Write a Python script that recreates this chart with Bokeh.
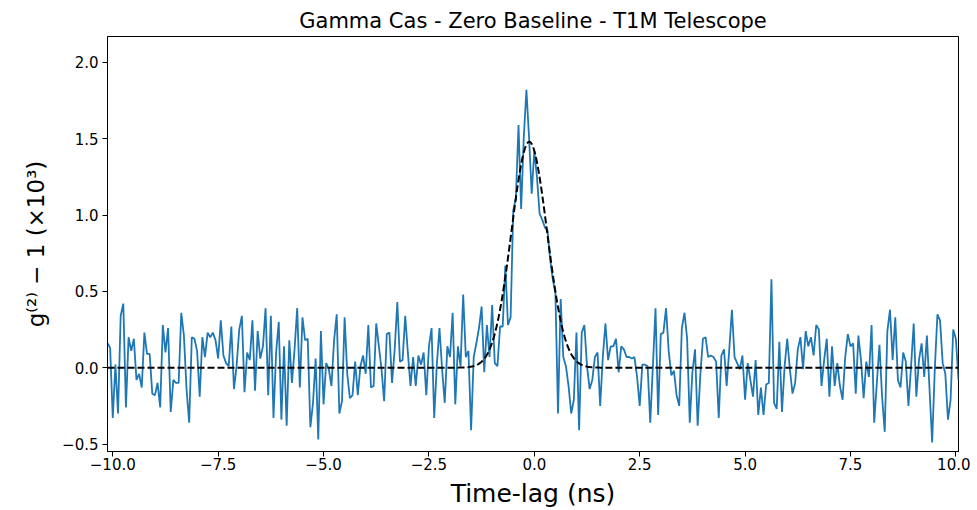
import numpy as np
from bokeh.plotting import figure
from bokeh.models import Range1d, FixedTicker, CustomJSTickFormatter
from bokeh.embed import file_html
from bokeh.resources import INLINE

# ---- data ----
title_text = "Gamma Cas - Zero Baseline - T1M Telescope"
x_label = "Time-lag (ns)"
y_label = "g\u207d\u00b2\u207e \u2212 1 (\u00d710\u00b3)"

time_start = -10.125
time_step = 0.0625

seg1 = [0.16, 0.13, -0.33, 0.02, -0.30, 0.34, 0.42, -0.26, 0.20, 0.11, 0.19, -0.08, -0.04, -0.13, 0.23, 0.09, 0.09, -0.17, -0.18, -0.10,
        -0.26, 0.28, 0.10, 0.26, -0.29, -0.08, -0.10, -0.10, 0.36, 0.21, -0.14, -0.36, 0.20, 0.19, 0.11, -0.19, 0.20, 0.07, 0.23, 0.20]
seg2 = [0.23, 0.18, 0.06, 0.31, 0.08, 0.03, 0.01, 0.27, -0.14, 0.01, 0.25, 0.34, -0.16, 0.10, 0.05, 0.31, -0.15, 0.24, 0.06, 0.14,
        0.39, -0.18, 0.34, -0.33, 0.10, 0.30, -0.34, 0.14, -0.38, 0.18, -0.10, 0.12, 0.39, -0.13, 0.33, 0.18, 0.19, -0.39, -0.23, 0.06]
seg3 = [-0.47, 0.24, -0.24, 0.03, -0.01, -0.12, 0.18, 0.35, -0.30, -0.22, 0.33, -0.04, -0.20, -0.18, 0.04, -0.18, 0.01, 0.08, -0.04, 0.28,
        -0.13, -0.12, 0.29, 0.14, -0.01, -0.22, 0.22, 0.23, -0.10, 0.12, 0.43, 0.04, 0.05, 0.34, 0.10, -0.12, 0.07, -0.12, 0.08, 0.02]
seg4 = [0.10, -0.18, 0.14, 0.26, -0.33, 0.02, 0.26, -0.01, -0.23, 0.14, 0.07, 0.36, -0.24, 0.14, 0.01, 0.48, 0.07, 0.11, -0.41, 0.07,
        0.16, 0.26, 0.40, -0.03, 0.28, 0.07, 0.41, 0.03, 0.01, 0.27, 0.27, 0.67, 0.28, 0.33, 1.03, 1.11, 1.59, 1.04, 1.51, 1.82]
seg5 = [1.51, 1.14, 1.42, 1.25, 1.01, 0.97, 0.92, 0.90, 0.71, 0.58, 0.49, -0.30, 0.45, 0.07, 0.01, -0.12, -0.30, -0.21, 0.23, -0.41,
        0.23, 0.28, 0.01, -0.14, -0.08, 0.07, 0.10, -0.25, 0.07, 0.29, 0.05, 0.14, 0.14, 0.19, -0.03, 0.14, 0.12, 0.07, 0.07, 0.06]
seg6 = [0.07, -0.06, -0.25, 0.02, 0.02, 0.01, -0.36, 0.01, 0.39, -0.31, 0.22, 0.23, 0.39, 0.11, -0.05, -0.02, -0.18, -0.25, 0.26, 0.36,
        0.19, -0.36, -0.03, 0.12, -0.38, -0.05, 0.19, 0.20, 0.07, 0.08, 0.07, 0.04, -0.33, 0.08, 0.12, -0.12, 0.12, 0.38, 0.07, 0.03]
seg7 = [-0.01, 0.08, -0.21, 0.03, -0.08, -0.19, 0.05, -0.31, -0.13, -0.31, -0.11, -0.10, 0.58, -0.23, -0.27, 0.17, -0.29, 0.01, 0.19, -0.01,
        -0.17, -0.10, 0.12, 0.20, -0.01, 0.24, 0.14, 0.20, 0.08, 0.28, 0.25, -0.12, 0.05, 0.19, -0.19, 0.14, -0.12, 0.03, -0.12, -0.21]
seg8 = [0.07, 0.22, 0.14, 0.16, -0.17, 0.21, 0.05, -0.20, 0.04, -0.06, 0.28, -0.36, -0.10, 0.15, -0.19, -0.42, 0.24, 0.38, 0.05, 0.33,
        -0.08, -0.13, 0.10, 0.04, -0.25, 0.01, 0.29, -0.19, 0.05, 0.16, -0.06, 0.21, -0.14, -0.49, -0.01, 0.35, 0.31, 0.03, -0.04, -0.34,
        -0.21, 0.25, 0.19, -0.08]

# Gaussian fit parameters (dashed curve)
fit_amplitude = 1.48
fit_center = -0.12
fit_sigma = 0.42

x_ticks = [-10.0, -7.5, -5.0, -2.5, 0.0, 2.5, 5.0, 7.5, 10.0]
y_ticks = [-0.5, 0.0, 0.5, 1.0, 1.5, 2.0]

# ---- derived ----
g2_values = np.array(seg1 + seg2 + seg3 + seg4 + seg5 + seg6 + seg7 + seg8)
time_lag = time_start + time_step * np.arange(len(g2_values))
fit_t = np.linspace(time_lag[0], time_lag[-1], 1200)
fit_curve = fit_amplitude * np.exp(-0.5 * ((fit_t - fit_center) / fit_sigma) ** 2)

FONT = "DejaVu Sans"

p = figure(width=970, height=510, output_backend="svg", toolbar_location=None,
           x_range=Range1d(time_lag[0], time_lag[-1]), y_range=Range1d(-0.549, 2.17),
           title=title_text,
           min_border_left=107, min_border_right=12, min_border_top=36, min_border_bottom=58)

p.background_fill_color = "white"
p.border_fill_color = "white"
p.outline_line_color = "black"
p.outline_line_width = 1
p.outline_line_alpha = 1.0
p.xgrid.visible = False
p.ygrid.visible = False

p.title.align = "center"
p.title.text_font = FONT
p.title.text_font_size = "21px"
p.title.text_font_style = "normal"
p.title.text_color = "black"
p.title.standoff = 8

fmt = CustomJSTickFormatter(code="return tick.toFixed(1).replace('-', '\u2212');")

for ax, ticks, lab, lab_size in ((p.xaxis[0], x_ticks, x_label, "25px"), (p.yaxis[0], y_ticks, y_label, "23px")):
    ax.ticker = FixedTicker(ticks=ticks)
    ax.formatter = fmt
    ax.axis_label = lab
    ax.axis_label_text_font = FONT
    ax.axis_label_text_font_size = lab_size
    ax.axis_label_text_font_style = "normal"
    ax.axis_label_text_color = "black"
    ax.major_label_text_font = FONT
    ax.major_label_text_font_size = "15px"
    ax.major_label_text_color = "black"
    ax.major_tick_out = 5
    ax.major_tick_in = 0
    ax.minor_tick_line_color = None
    ax.axis_line_color = "black"
    ax.major_tick_line_color = "black"

p.yaxis[0].axis_label_standoff = 10
p.xaxis[0].axis_label_standoff = 6
p.xaxis[0].major_label_standoff = 1
p.yaxis[0].major_label_standoff = 4

p.line(time_lag, g2_values, line_color="#1f77b4", line_width=1.8)
p.line(fit_t, fit_curve, line_color="black", line_width=2, line_dash="7 3")

open("out.html", "w").write(file_html(p, INLINE))
